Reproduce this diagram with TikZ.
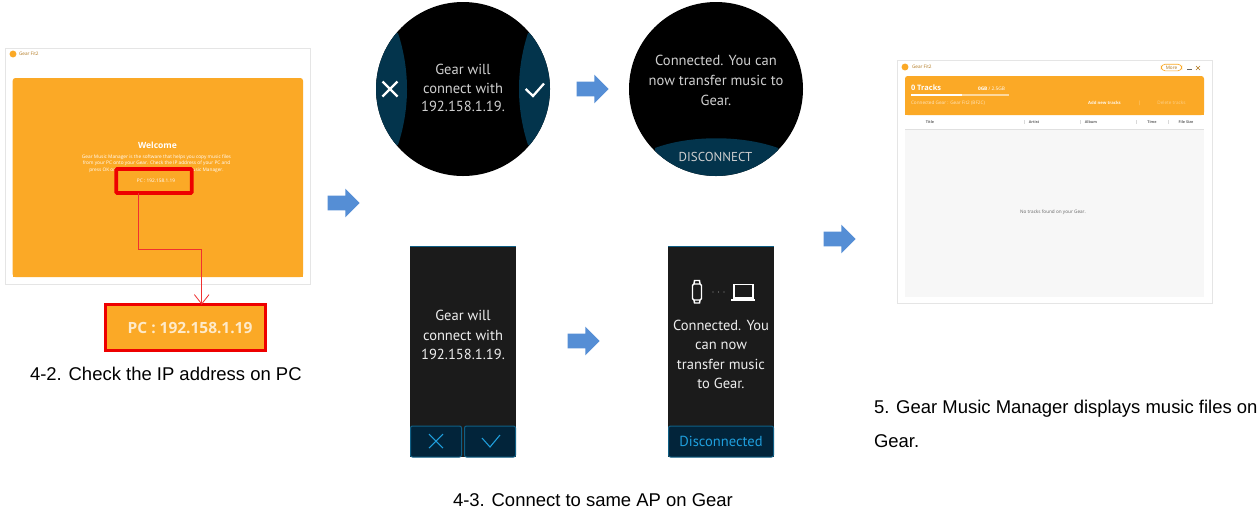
\documentclass[tikz,border=0pt]{standalone}
\usepackage{fontspec}
\setmainfont{Liberation Sans}
\newfontfamily\ui{Open Sans}
\newfontfamily\gearui{PT Sans}
\usetikzlibrary{arrows.meta,shapes.arrows}
\definecolor{gearorange}{HTML}{FBA926}
\definecolor{teal}{HTML}{03344C}
\definecolor{watchtext}{HTML}{CFCFCF}
\definecolor{bandtext}{HTML}{EDEDED}
\definecolor{banddark}{HTML}{1B1B1B}
\definecolor{bandbtn}{HTML}{02243A}
\definecolor{bandedge}{HTML}{0F5F85}
\definecolor{bandblue}{HTML}{1F9FDD}
\definecolor{flowblue}{HTML}{558ED5}
\definecolor{calloutred}{HTML}{EE0000}
\definecolor{leaderred}{HTML}{F03030}
\tikzset{
  x=.75pt,y=-.75pt,
  every node/.style={inner sep=0pt,outer sep=0pt},
  caption/.style={anchor=base west,font=\fontsize{13.85}{16}\selectfont,text=black},
  watchlabel/.style={align=center,text=watchtext,font=\gearui\fontsize{10.9}{13.9}\selectfont},
  bandlabel/.style={align=center,text=bandtext,font=\gearui\fontsize{10.9}{14.5}\selectfont},
  flowarrow/.style={single arrow,fill=flowblue,inner ysep=5.25pt,minimum width=21pt,minimum height=24pt,single arrow head extend=5.25pt,single arrow tip angle=90},
  window/.style={draw=black!10,fill=white,line width=.75pt},
  tiny/.style={text=#1,font=\ui\fontsize{3.5}{4.6}\selectfont},
  tinybold/.style={text=#1,font=\ui\bfseries\fontsize{3.2}{4.6}\selectfont},
  tinyhead/.style={text=black!60,font=\ui\bfseries\fontsize{2.8}{4}\selectfont},
  bandbutton/.style={fill=bandbtn,draw=bandedge,line width=.75pt,rounded corners=1.5pt},
}
\begin{document}
\begin{tikzpicture}
\path[use as bounding box,fill=white] (0,0) rectangle (1260,512);

% --- PC window, step 4-2
\path[window] (5.7,48) rectangle (310,284);
\fill[gearorange] (13,54) circle[radius=2.6pt];
\node[tiny=gearorange!70!black,anchor=west] (title1) at (19,54) {Gear Fit2};
\path[fill=gearorange,rounded corners=2pt] (12.7,277) -- (12.7,78) -- (303,78) -- (303,277) -- cycle;
\fill[gearorange] (12.7,270) rectangle (303,277);
\node[text=white,font=\ui\bfseries\fontsize{6.4}{8}\selectfont] (welcome) at (157.5,145) {Welcome};
\node[text=white,align=center,font=\ui\fontsize{3.58}{4.95}\selectfont] (body) at (156.5,163.5)
  {Gear Music Manager is the software that helps you copy music files\\
   from your PC onto your Gear. Check the IP address of your PC and\\
   press OK on your Gear to connect with Gear Music Manager.};
\node[draw=calloutred,fill=gearorange,line width=2.8pt,rounded corners=.8pt,minimum width=56.6pt,minimum height=18pt,
  text=white,font=\ui\fontsize{3.6}{5}\selectfont] (ipbox) at (154,181) {\hspace*{3pt}PC : 192.158.1.19};
\node[draw=calloutred,fill=gearorange,line width=2.4pt,minimum width=119.8pt,minimum height=34.4pt,
  text=white!75!gearorange,font=\ui\bfseries\fontsize{11.6}{15}\selectfont] (zoombox) at (185.5,327.5) {\hspace*{6.8pt}PC : 192.158.1.19};
\coordinate (elbow1) at (138.7,249.7);
\coordinate (elbow2) at (201.7,249.7);
\draw[leaderred,line width=.9pt,-{Straight Barb[length=7pt,width=11pt,line width=.6pt]}]
  (ipbox.south -| elbow1) -- (elbow1) -- (elbow2) -- (elbow2 |- zoombox.north);
\node[caption] (cap42) at (30,380) {4-2. Check the IP address on PC};

% --- flow arrows
\node[flowarrow] (flow1) at (340,203) {};
\node[flowarrow] (flow2) at (589,89) {};
\node[flowarrow] (flow3) at (580,341) {};
\node[flowarrow] (flow4) at (836,239) {};

% --- round watch, question
\begin{scope}
  \clip (463,89) circle[radius=65.25pt];
  \fill[black] (370,0) rectangle (560,180);
  \fill[teal] (398,33) .. controls (410,70) and (410,108) .. (398,145) -- (370,145) -- (370,33) -- cycle;
  \fill[teal] (528,33) .. controls (516,70) and (516,108) .. (528,145) -- (556,145) -- (556,33) -- cycle;
\end{scope}
\node[watchlabel] (q1) at (463,88) {Gear will\\connect with\\192.158.1.19.};
\draw[white,line width=1.7pt] (382.5,81.5) -- (397.5,96.5) (397.5,81.5) -- (382.5,96.5);
\draw[white,line width=1.7pt] (525.7,89) -- (533,96) -- (544,83.5);

% --- round watch, connected
\begin{scope}
  \clip (716,89) circle[radius=65.25pt];
  \fill[black] (620,0) rectangle (810,180);
  \fill[teal] (655,148) .. controls (690,135) and (742,135) .. (778,148) -- (778,180) -- (655,180) -- cycle;
\end{scope}
\node[watchlabel,font=\gearui\fontsize{10.9}{15}\selectfont] (a1) at (716,80) {Connected. You can\\now transfer music to\\Gear.};
\node[watchlabel,font=\gearui\fontsize{9.7}{13}\selectfont] (disc1) at (715.5,156.5) {DISCONNECT};

% --- band, question
\fill[banddark] (410,246) rectangle (516,457);
\draw[bandedge,line width=.75pt] (410,246.4) -- (516,246.4);
\node[bandlabel] (q2) at (463,335) {Gear will\\connect with\\192.158.1.19.};
\path[bandbutton] (410.5,426) rectangle (461.5,457);
\path[bandbutton] (464.5,426) rectangle (515.5,457);
\draw[bandblue,line width=.8pt] (429,434) -- (443,448) (443,434) -- (429,448);
\draw[bandblue,line width=.8pt] (482,438) -- (490,447) -- (500,435);

% --- band, connected
\fill[banddark] (668,246) rectangle (774,457);
\draw[bandedge,line width=.75pt] (668,246.4) -- (774,246.4);
\draw[white,line width=1.1pt,rounded corners=1pt] (692.5,284) rectangle (701.5,300);
\draw[white,line width=1.1pt] (694,284) -- (694.5,280.5) -- (699.5,280.5) -- (700,284) (694,300) -- (694.5,303) -- (699.5,303) -- (700,300);
\fill[white!50!banddark] (713,292) circle[radius=.5pt] (718.5,292) circle[radius=.5pt] (724,292) circle[radius=.5pt];
\draw[white,line width=1.1pt] (734,284.5) rectangle (753,298);
\draw[white,line width=1.4pt] (731,300) -- (755,300);
\node[bandlabel] (a2) at (721,354.5) {Connected. You\\can now\\transfer music\\to Gear.};
\path[bandbutton] (668.5,426) rectangle (773.5,457);
\node[text=bandblue,font=\gearui\fontsize{10.9}{13}\selectfont] (disc2) at (721,441.5) {Disconnected};
\node[caption] (cap43) at (453,506) {4-3. Connect to same AP on Gear};

% --- PC window, step 5
\path[window] (897,60) rectangle (1212,303);
\fill[gearorange] (905,67) circle[radius=2.6pt];
\node[tiny=gearorange!70!black,anchor=west] (title2) at (912,67) {Gear Fit2};
\node[draw=gearorange,line width=.5pt,rounded corners=3pt,minimum width=15.5pt,minimum height=5pt,tiny=gearorange!70!black] (more) at (1171.5,67.5) {More};
\draw[black!60,line width=.4pt] (1187,69.5) -- (1192,69.5);
\draw[gearorange!70!black,line width=.4pt] (1196,66) -- (1200,70) (1200,66) -- (1196,70);
\path[fill=gearorange,rounded corners=2pt] (905,115) -- (905,76) -- (1204,76) -- (1204,115) -- cycle;
\fill[gearorange] (905,110) rectangle (1204,115);
\fill[black!3] (905,129) rectangle (1204,297);
\draw[black!12,line width=.5pt] (905,129) -- (1204,129);
\node[text=white,anchor=west,font=\ui\bfseries\fontsize{5.6}{7}\selectfont] (tracks) at (911,88) {0 Tracks};
\node[text=white,anchor=west,font=\ui\fontsize{3.6}{5}\selectfont] (size) at (978,88.5) {\textbf{0GB} / 2.5GB};
\fill[white!55!gearorange] (911,94.3) rectangle (1009,95.7);
\fill[white] (911,94.3) rectangle (962,95.7);
\node[tiny=white!70!gearorange,anchor=west] (conn) at (911,103) {Connected Gear : Gear Fit2 (BF2C)};
\node[tinybold=white!90!gearorange] (addnew) at (1104.5,103) {Add new tracks};
\node[tiny=white!60!gearorange] (sep) at (1140,103) {|};
\node[tiny=white!45!gearorange] (delete) at (1171.5,103) {Delete tracks};
\node[tinyhead] (h1) at (930,122) {Title};
\node[tinyhead] (h2) at (1034,122) {Artist};
\node[tinyhead] (h3) at (1091,122) {Album};
\node[tinyhead] (h4) at (1152,122) {Time};
\node[tinyhead] (h5) at (1186,122) {File Size};
\draw[black!15,line width=.3pt] (1024,120) -- (1024,124) (1080,120) -- (1080,124) (1136,120) -- (1136,124) (1168,120) -- (1168,124);
\node[tiny=black!60] (empty) at (1053,212) {No tracks found on your Gear.};
\node[caption] (cap5a) at (874,413) {5. Gear Music Manager displays music files on};
\node[caption] (cap5b) at (874,447) {Gear.};
\end{tikzpicture}
\end{document}
